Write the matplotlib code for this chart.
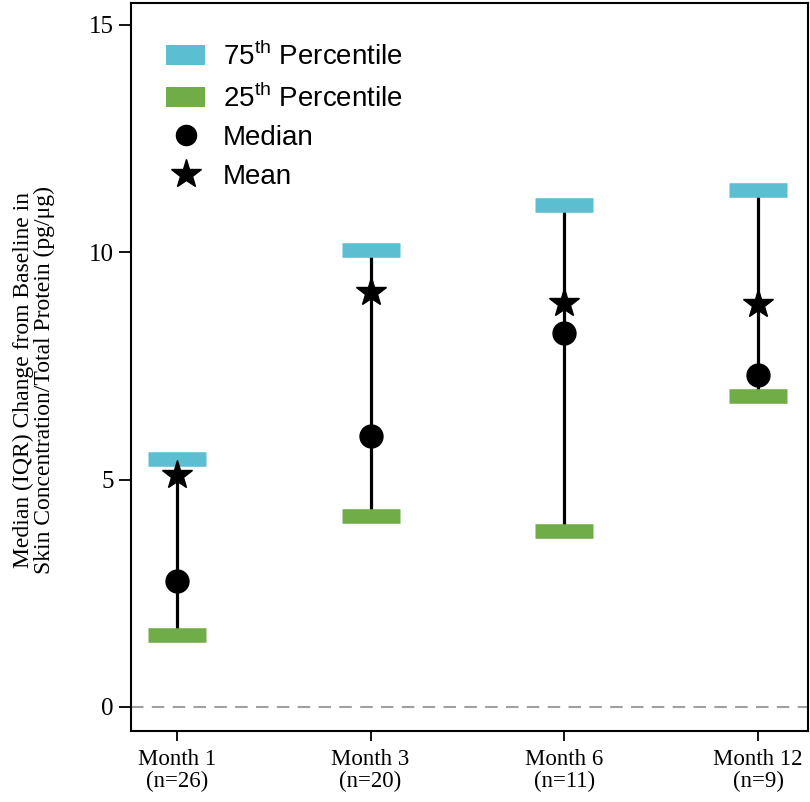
import matplotlib
matplotlib.use("Agg")
import matplotlib.pyplot as plt
from matplotlib.patches import Patch
from matplotlib.lines import Line2D

months = ["Month 1\n(n=26)", "Month 3\n(n=20)", "Month 6\n(n=11)", "Month 12\n(n=9)"]
p75 = [5.45, 10.05, 11.04, 11.37]
p25 = [1.58, 4.20, 3.86, 6.83]
median = [2.77, 5.96, 8.23, 7.30]
mean = [5.10, 9.13, 8.88, 8.86]
yticks = [0, 5, 10, 15]

blue = "#5bbfd1"
green = "#70ad47"

plt.rcParams['mathtext.fontset'] = 'custom'
plt.rcParams['mathtext.rm'] = 'Liberation Sans'

fig = plt.figure(figsize=(8.1, 8.02), dpi=100)
ax = fig.add_axes([131/810, (802-731)/802, (808-131)/810, (731-3)/802])

x = list(range(1, len(months) + 1))

ax.axhline(0, color="#a0a0a0", ls=(0, (6, 4)), lw=1.5, zorder=1)
ax.vlines(x, p25, p75, color="black", lw=2.3, zorder=2)
ax.hlines(p75, [i - 0.15 for i in x], [i + 0.15 for i in x], color=blue, lw=10.5, zorder=3)
ax.hlines(p25, [i - 0.15 for i in x], [i + 0.15 for i in x], color=green, lw=10.5, zorder=3)
ax.plot(x, median, ls="none", marker="o", ms=16.5, color="black", zorder=4)
ax.plot(x, mean, ls="none", marker="*", ms=22, color="black", zorder=5)

ax.set_xlim(0.763, 4.258)
ax.set_ylim(-0.53, 15.48)
ax.set_xticks(x)
ax.set_xticklabels(months, fontfamily="Liberation Serif", fontsize=16.5, linespacing=1.05)
ax.set_yticks(yticks)
ax.set_yticklabels([str(v) for v in yticks], fontfamily="Liberation Serif", fontsize=18)
ax.tick_params(axis="y", length=8.5, width=1.3, pad=4)
ax.tick_params(axis="x", length=7, width=1.3, pad=6)
for s in ax.spines.values():
    s.set_linewidth(1.5)

ax.set_ylabel("Median (IQR) Change from Baseline in\nSkin Concentration/Total Protein (pg/\u03bcg)",
              fontfamily="Liberation Serif", fontsize=17, linespacing=1.0)
ax.yaxis.set_label_coords(-0.112, 0.482)

handles = [
    Patch(facecolor=blue, edgecolor="none"),
    Patch(facecolor=green, edgecolor="none"),
    Line2D([], [], ls="none", marker="o", ms=14.5, color="black"),
    Line2D([], [], ls="none", marker="*", ms=22, color="black"),
]
labels = ["75$^{\\mathrm{th}}$ Percentile", "25$^{\\mathrm{th}}$ Percentile", "Median", "Mean"]
leg = ax.legend(handles, labels, loc="upper left", bbox_to_anchor=(0.0355, 0.962),
                borderaxespad=0, frameon=False, prop={"family": "Liberation Sans", "size": 20},
                handlelength=1.4, handleheight=0.72, handletextpad=0.65, labelspacing=0.45)

fig.savefig("out.png", dpi=100)
